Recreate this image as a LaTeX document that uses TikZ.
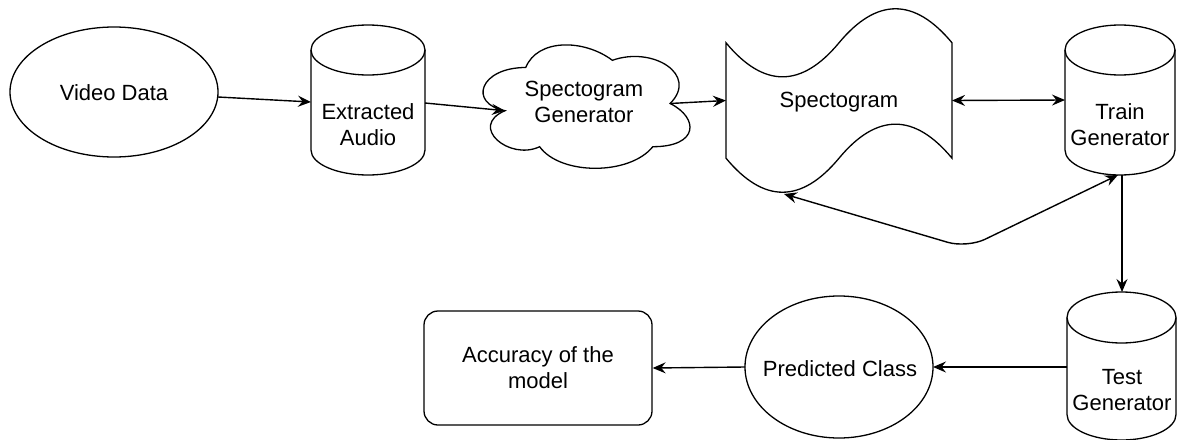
\documentclass[tikz,border=0pt]{standalone}
\usepackage{fontspec}
\setmainfont{Liberation Sans}
\usetikzlibrary{arrows.meta,calc,shapes.geometric}
\tikzset{
  shp/.style={draw=black, line width=1.3pt},
  tipA/.tip={Stealth[length=13pt,width=11pt,inset=4.5pt]},
  arr/.style={draw=black, line width=1.4pt, -tipA},
  darr/.style={draw=black, line width=1.4pt, tipA-tipA},
  bnd/.style={inner sep=0pt, outer sep=0pt},
  lbl/.style={align=center, font=\fontsize{22}{26}\selectfont, inner sep=0pt, text=black},
  ell/.style={shp, ellipse, inner sep=0pt, outer sep=0pt},
  rbox/.style={shp, rectangle, rounded corners=14pt, inner sep=0pt, align=center, font=\fontsize{22}{26}\selectfont}
}
\begin{document}
\begin{tikzpicture}[x=1pt,y=-1pt]
\fill[white] (0,0) rectangle (1177,439);
\useasboundingbox (0,0) rectangle (1177,439);

% Video Data
\node[ell, minimum width=208pt, minimum height=130pt] (video) at (114,92) {};
\node[lbl] (videotxt) at (114,93) {Video Data};

% Extracted Audio (cylinder)
\node[bnd, minimum width=114pt, minimum height=150pt] (audio) at (368,100) {};
\draw[shp] (311,50) -- (311,150) .. controls (311,163.8) and (336.5,175) .. (368,175) .. controls (399.5,175) and (425,163.8) .. (425,150) -- (425,50);
\draw[shp] (368,50) ellipse [x radius=57, y radius=25];
\node[lbl] (audiotxt) at (368,124.5) {Extracted\\Audio};

% Spectogram Generator (cloud)
\node[bnd, minimum width=231pt, minimum height=144pt] (cloud) at (583.5,103.5) {};
\draw[shp] (525.75,67.5) .. controls (479.55,67.5) and (468,103.5) .. (504.96,110.7)
  .. controls (468,126.54) and (509.58,161.1) .. (539.61,146.7)
  .. controls (560.4,175.5) and (629.7,175.5) .. (652.8,146.7)
  .. controls (699,146.7) and (699,117.9) .. (670.125,103.5)
  .. controls (699,74.7) and (652.8,45.9) .. (612.375,60.3)
  .. controls (583.5,38.7) and (537.3,38.7) .. (525.75,67.5) -- cycle;
\coordinate (cloudL) at (504.96,110.7);
\coordinate (cloudR) at (670.1,103.5);
\node[lbl] (cloudtxt) at (584,101.5) {Spectogram\\Generator};

% Spectogram (tape)
\node[bnd, minimum width=226pt, minimum height=191pt] (spec) at (839,100.5) {};
\draw[shp] (726,42.8) .. controls (763.67,88.16) and (801.33,88.16) .. (839,42.8)
  .. controls (876.67,-2.56) and (914.33,-2.56) .. (952,42.8) -- (952,158.2)
  .. controls (914.33,112.84) and (876.67,112.84) .. (839,158.2)
  .. controls (801.33,203.56) and (763.67,203.56) .. (726,158.2) -- cycle;
\node[lbl] (spectxt) at (839,102) {Spectogram};
\coordinate (specB) at (784,194);
\coordinate (bend) at (967,248);

% Train Generator (cylinder)
\node[bnd, minimum width=110pt, minimum height=150pt] (train) at (1120,100) {};
\draw[shp] (1065,50) -- (1065,150) .. controls (1065,163.8) and (1089.6,175) .. (1120,175) .. controls (1150.4,175) and (1175,163.8) .. (1175,150) -- (1175,50);
\draw[shp] (1120,50) ellipse [x radius=55, y radius=25];
\node[lbl] (traintxt) at (1120,124.5) {Train\\Generator};

% Test Generator (cylinder)
\node[bnd, minimum width=109pt, minimum height=148pt] (test) at (1121.5,366) {};
\draw[shp] (1067,317.5) -- (1067,414.5) .. controls (1067,428.6) and (1091.4,440) .. (1121.5,440) .. controls (1151.6,440) and (1176,428.6) .. (1176,414.5) -- (1176,317.5);
\draw[shp] (1121.5,317.5) ellipse [x radius=54.5, y radius=25.5];
\node[lbl] (testtxt) at (1122,390) {Test\\Generator};

% Predicted Class
\node[ell, minimum width=188pt, minimum height=142pt] (pred) at (839,367) {};
\node[lbl] (predtxt) at (840,369) {Predicted Class};

% Accuracy of the model
\node[rbox, minimum width=228pt, minimum height=114pt] (acc) at (538,368) {Accuracy of the\\model};

% Connectors
\draw[arr] ([yshift=-5pt]video.east) -- ([yshift=-2pt]audio.west);
\draw[arr] ([yshift=-3pt]audio.east) -- (cloudL);
\draw[arr] (cloudR) -- (spec.west);
\draw[darr] (spec.east) -- (train.west);
\draw[darr, rounded corners=20pt] (specB) -- (bend) -- ([xshift=-2pt]train.south);
\draw[arr] ([xshift=2pt]train.south) -- ([xshift=0.5pt]test.north);
\draw[arr] (test.west |- pred.east) -- (pred.east);
\draw[arr] (pred.west) -- (acc.east);
\end{tikzpicture}
\end{document}
